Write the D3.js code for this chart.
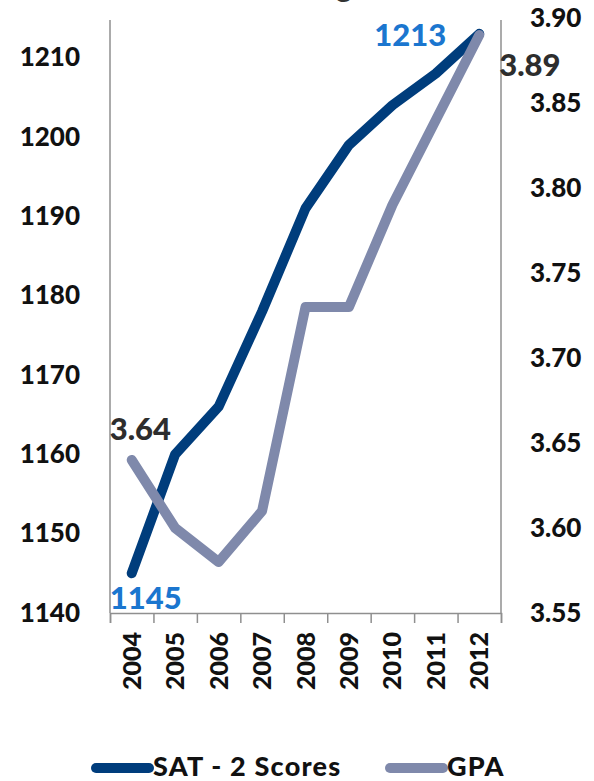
<!DOCTYPE html>
<html>
<head>
<meta charset="utf-8">
<script src="https://cdn.jsdelivr.net/npm/d3@7"></script>
<style>
  body { margin: 0; background: #fff; }
  svg text { font-family: Lato, "Open Sans", sans-serif; font-weight: 900; }
</style>
</head>
<body>
<div id="chart"></div>
<script>
// values
var years = ['2004', '2005', '2006', '2007', '2008', '2009', '2010', '2011', '2012'];
var satScores = [1145, 1160, 1166, 1178, 1191, 1199, 1204, 1208, 1213];
var gpaValues = [3.64, 3.60, 3.58, 3.61, 3.73, 3.73, 3.79, 3.84, 3.89];
var satTicks = [1140, 1150, 1160, 1170, 1180, 1190, 1200, 1210];
var gpaTicks = [3.55, 3.60, 3.65, 3.70, 3.75, 3.80, 3.85, 3.90];
var legendItems = ['SAT - 2 Scores', 'GPA'];

var width = 594, height = 781;
var plotLeft = 110, plotRight = 501, plotTop = 18, plotBottom = 613;
var satColor = '#003d7c', gpaColor = '#7f89ab', labelBlue = '#1b76cf', axisGrey = '#8f8f8f';

var svg = d3.select('#chart').append('svg')
    .attr('width', width).attr('height', height);

var x = d3.scaleBand().domain(years).range([plotLeft, plotRight]).padding(0);
var ySat = d3.scaleLinear().domain([1140, 1215]).range([plotBottom, plotTop]);
var yGpa = d3.scaleLinear().domain([3.55, 3.90]).range([plotBottom, plotTop]);
var cx = function(d) { return x(d) + x.bandwidth() / 2; };

// cropped title, only the descender shows
svg.append('text')
    .attr('x', 352).attr('y', -3)
    .attr('text-anchor', 'end')
    .attr('font-size', 30)
    .attr('fill', '#333')
    .text('Rising');

// left axis
var leftAxis = svg.append('g')
    .attr('transform', 'translate(' + plotLeft + ',0)')
    .call(d3.axisLeft(ySat).tickValues(satTicks).tickSize(0).tickPadding(30).tickFormat(d3.format('d')));
leftAxis.select('.domain').attr('stroke', axisGrey).attr('stroke-width', 1.5).attr('d', 'M0,20V' + plotBottom);
leftAxis.selectAll('text').attr('font-size', 26).attr('fill', '#111').style('font-family', null);

// right axis
var rightAxis = svg.append('g')
    .attr('transform', 'translate(' + plotRight + ',0)')
    .call(d3.axisRight(yGpa).tickValues(gpaTicks).tickSize(0).tickPadding(29).tickFormat(d3.format('.2f')));
rightAxis.select('.domain').attr('stroke', axisGrey).attr('stroke-width', 1.5).attr('d', 'M0,20V' + plotBottom);
rightAxis.selectAll('text').attr('font-size', 26).attr('fill', '#111').style('font-family', null);

// x axis line with ticks on band edges
var edge = d3.scaleLinear().domain([0, years.length]).range([plotLeft, plotRight]);
var xTicks = svg.append('g')
    .attr('transform', 'translate(0,' + plotBottom + ')')
    .call(d3.axisBottom(edge).tickValues(d3.range(years.length + 1)).tickSize(10).tickSizeOuter(10).tickFormat(''));
xTicks.selectAll('line, path').attr('stroke', axisGrey).attr('stroke-width', 1.5);

// rotated year labels
var xAxis = svg.append('g')
    .attr('transform', 'translate(0,' + plotBottom + ')')
    .call(d3.axisBottom(x).tickSize(0).tickPadding(0));
xAxis.select('.domain').remove();
xAxis.selectAll('text')
    .attr('font-size', 25).attr('fill', '#111').style('font-family', null)
    .attr('text-anchor', 'end')
    .attr('dy', '0.36em').attr('x', 0).attr('y', 0)
    .attr('transform', 'translate(0,19) rotate(-90)');

// lines
var satLine = d3.line().x(function(d, i) { return cx(years[i]); }).y(function(d) { return ySat(d); });
var gpaLine = d3.line().x(function(d, i) { return cx(years[i]); }).y(function(d) { return yGpa(d); });

svg.append('path').datum(satScores)
    .attr('d', satLine).attr('fill', 'none')
    .attr('stroke', satColor).attr('stroke-width', 10)
    .attr('stroke-linecap', 'round').attr('stroke-linejoin', 'round');

svg.append('path').datum(gpaValues)
    .attr('d', gpaLine).attr('fill', 'none')
    .attr('stroke', gpaColor).attr('stroke-width', 10)
    .attr('stroke-linecap', 'round').attr('stroke-linejoin', 'round');

// data labels
var last = years.length - 1;
svg.append('text')
    .attr('x', cx(years[last]) - 33).attr('y', ySat(satScores[last]) + 12)
    .attr('text-anchor', 'end').attr('font-size', 31).attr('fill', labelBlue)
    .text(satScores[last]);
svg.append('text')
    .attr('x', cx(years[0]) - 22).attr('y', ySat(satScores[0]) + 36)
    .attr('font-size', 31).attr('fill', labelBlue)
    .text(satScores[0]);
svg.append('text')
    .attr('x', cx(years[0]) - 22).attr('y', yGpa(gpaValues[0]) - 20)
    .attr('font-size', 31).attr('fill', '#2d2d2d')
    .text(gpaValues[0].toFixed(2));
svg.append('text')
    .attr('x', cx(years[last]) + 20).attr('y', yGpa(gpaValues[last]) + 41)
    .attr('font-size', 31).attr('fill', '#2d2d2d')
    .text(gpaValues[last].toFixed(2));

// legend
var legendX = [92, 386];
var legend = svg.append('g');
legendItems.forEach(function(name, i) {
    var g = legend.append('g').attr('transform', 'translate(' + legendX[i] + ',768)');
    g.append('line')
        .attr('x1', 4).attr('x2', 57).attr('y1', 0).attr('y2', 0)
        .attr('stroke', i === 0 ? satColor : gpaColor)
        .attr('stroke-width', 10).attr('stroke-linecap', 'round');
    g.append('text')
        .attr('x', 61).attr('y', 8)
        .attr('font-size', 27).attr('letter-spacing', 1.2).attr('fill', '#111')
        .text(name);
});
</script>
</body>
</html>
